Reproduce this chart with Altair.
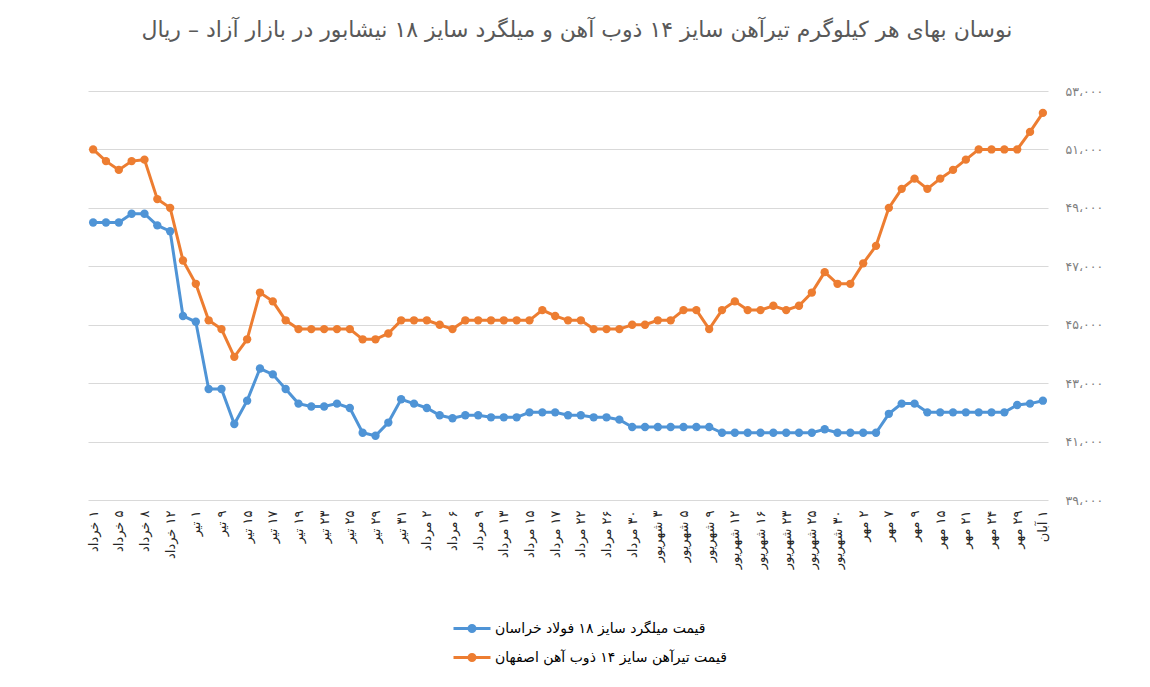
import json
import altair as alt
import pandas as pd

title_text = "نوسان بهای هر کیلوگرم  تیرآهن سایز ۱۴ ذوب آهن و میلگرد سایز ۱۸ نیشابور در بازار آزاد – ریال"

x_labels = [
    "۱ خرداد", "۵ خرداد", "۸ خرداد", "۱۲ خرداد",
    "۱ تیر", "۹ تیر", "۱۵ تیر", "۱۷ تیر", "۱۹ تیر", "۲۳ تیر", "۲۵ تیر", "۲۹ تیر", "۳۱ تیر",
    "۲ مرداد", "۶ مرداد", "۹ مرداد", "۱۳ مرداد", "۱۵ مرداد", "۱۷ مرداد", "۲۲ مرداد", "۲۶ مرداد", "۳۰ مرداد",
    "۳ شهریور", "۵ شهریور", "۹ شهریور", "۱۲ شهریور", "۱۶ شهریور", "۲۳ شهریور", "۲۵ شهریور", "۳۰ شهریور",
    "۲ مهر", "۷ مهر", "۹ مهر", "۱۵ مهر", "۲۱ مهر", "۲۴ مهر", "۲۹ مهر",
    "۱ آبان",
]

series_names = [
    "قیمت میلگرد سایز ۱۸ فولاد خراسان",
    "قیمت تیرآهن سایز ۱۴ ذوب آهن اصفهان",
]
series_colors = ["#4f94d6", "#ED7D31"]

blue_values = [
    48500, 48500, 48500, 48800, 48800, 48400, 48200, 45300, 45100, 42800,
    42800, 41600, 42400, 43500, 43300, 42800, 42300, 42200, 42200, 42300,
    42150, 41300, 41200, 41650, 42450, 42300, 42150, 41900, 41800, 41900,
    41900, 41830, 41830, 41830, 42000, 42000, 42000, 41900, 41900, 41830,
    41830, 41750, 41500, 41500, 41500, 41500, 41500, 41500, 41500, 41300,
    41300, 41300, 41300, 41300, 41300, 41300, 41300, 41420, 41300, 41300,
    41300, 41300, 41950, 42300, 42300, 42000, 42000, 42000, 42000, 42000,
    42000, 42000, 42250, 42300, 42400,
]

orange_values = [
    51000, 50600, 50300, 50600, 50650, 49300, 49000, 47200, 46400, 45150,
    44850, 43900, 44500, 46100, 45800, 45150, 44850, 44850, 44850, 44850,
    44850, 44500, 44500, 44700, 45150, 45150, 45150, 45000, 44850, 45150,
    45150, 45150, 45150, 45150, 45150, 45500, 45300, 45150, 45150, 44850,
    44850, 44850, 45000, 45000, 45150, 45150, 45500, 45500, 44850, 45500,
    45800, 45500, 45500, 45650, 45500, 45650, 46100, 46800, 46400, 46400,
    47100, 47700, 49000, 49650, 50000, 49650, 50000, 50300, 50650, 51000,
    51000, 51000, 51000, 51600, 52250,
]

y_ticks = [39000, 41000, 43000, 45000, 47000, 49000, 51000, 53000]
y_tick_labels = ["۳۹،۰۰۰", "۴۱،۰۰۰", "۴۳،۰۰۰", "۴۵،۰۰۰", "۴۷،۰۰۰", "۴۹،۰۰۰", "۵۱،۰۰۰", "۵۳،۰۰۰"]

rows = []
for name, vals in zip(series_names, [blue_values, orange_values]):
    for i, v in enumerate(vals):
        rows.append({"i": i, "series": name, "value": v})
df = pd.DataFrame(rows)

RLM = "\u200f"
x_label_expr = "[" + ",".join(json.dumps(RLM + s, ensure_ascii=False) for s in x_labels) + "][datum.value / 2]"
y_label_expr = "[" + ",".join(json.dumps(s, ensure_ascii=False) for s in y_tick_labels) + "][(datum.value - 39000) / 2000]"

FONT = "DejaVu Sans"

x_enc = alt.X(
    "i:Q",
    scale=alt.Scale(domain=[-0.4, len(blue_values) - 0.6], nice=False, zero=False),
    axis=alt.Axis(
        values=list(range(0, len(blue_values), 2)),
        labelExpr=x_label_expr,
        labelAngle=-90,
        title=None,
        grid=False,
        ticks=False,
        tickSize=0,
        domain=False,
        labelPadding=10,
        labelFontSize=13,
        labelFont=FONT,
        labelColor="#262626",
        labelOverlap=False,
        labelFlush=False,
        labelBound=False,
    ),
)
y_enc = alt.Y(
    "value:Q",
    scale=alt.Scale(domain=[39000, 53000], nice=False, zero=False),
    axis=alt.Axis(
        orient="right",
        values=y_ticks,
        labelExpr=y_label_expr,
        title=None,
        grid=True,
        gridColor="#d9d9d9",
        gridWidth=1,
        ticks=False,
        domain=False,
        labelPadding=17,
        labelFontSize=12.5,
        labelFont=FONT,
        labelColor="#7f7f7f",
    ),
)

color_scale = alt.Scale(domain=series_names, range=series_colors)
legend_path = ("M-1,0L1,0"
               "M-0.162,0A0.162,0.162,0,1,1,0.162,0A0.162,0.162,0,1,1,-0.162,0"
               "M-0.081,0A0.081,0.081,0,1,1,0.081,0A0.081,0.081,0,1,1,-0.081,0")

lines = alt.Chart(df).mark_line(strokeWidth=3).encode(
    x=x_enc,
    y=y_enc,
    color=alt.Color(
        "series:N",
        scale=color_scale,
        sort=series_names,
        legend=alt.Legend(
            title=None,
            orient="none",
            legendX=364,
            legendY=523,
            direction="vertical",
            symbolType=legend_path,
            symbolSize=1369,
            symbolStrokeWidth=3,
            labelFont=FONT,
            labelFontSize=14,
            labelColor="#000000",
            labelOffset=3,
            clipHeight=29,
            rowPadding=0,
            padding=0,
            labelLimit=400,
        ),
    ),
    detail="series:N",
)

points = alt.Chart(df).mark_point(filled=True, size=70, opacity=1).encode(
    x=x_enc,
    y=y_enc,
    color=alt.Color("series:N", scale=color_scale, legend=None),
)

chart = alt.layer(lines, points).properties(
    width=960,
    height=409,
    background="white",
    title=alt.TitleParams(
        text=title_text,
        font=FONT,
        fontSize=22,
        fontWeight="normal",
        color="#595959",
        anchor="middle",
        frame="group",
        baseline="bottom",
        offset=21,
        dx=9,
    ),
    autosize=alt.AutoSizeParams(type="none"),
    padding={"left": 80, "top": 83, "right": 94, "bottom": 175},
).configure_view(stroke=None)

chart.save("out.html", embed_options={"renderer": "svg", "actions": False})
